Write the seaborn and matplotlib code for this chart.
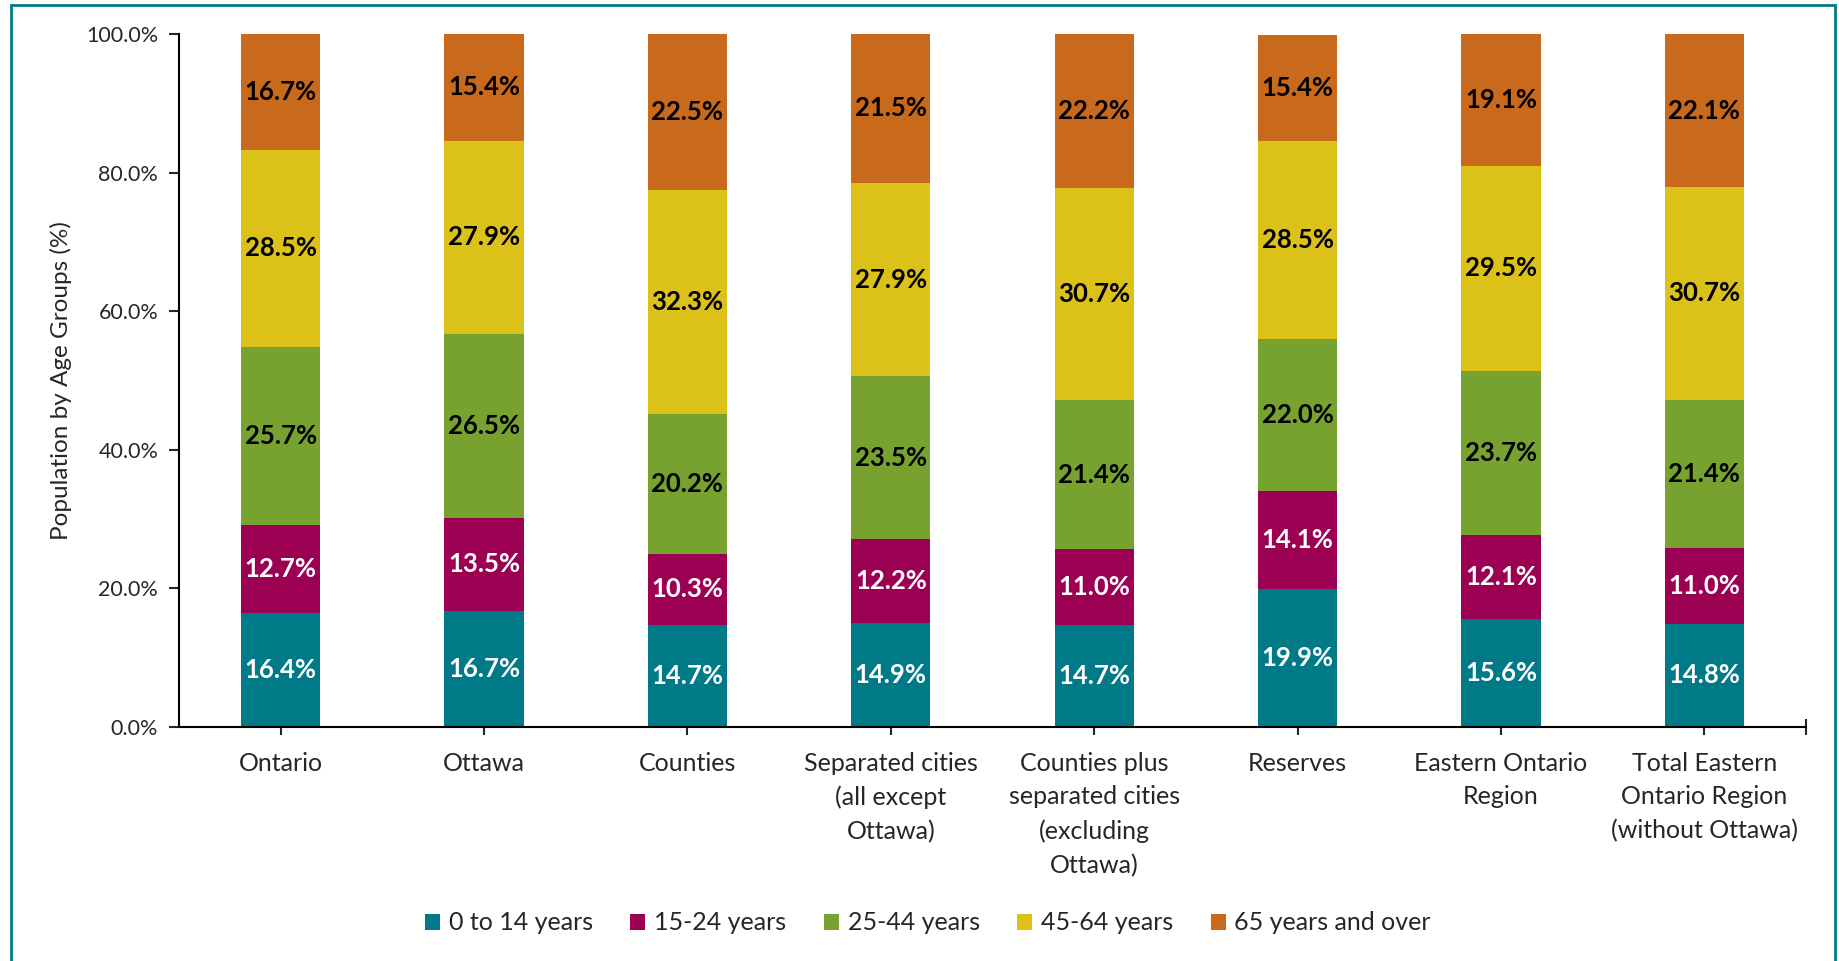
import matplotlib
matplotlib.use("Agg")
import matplotlib.pyplot as plt
import seaborn as sns
import pandas as pd
import numpy as np
from matplotlib.patches import Rectangle, Patch

categories = ["Ontario", "Ottawa", "Counties", "Separated cities\n(all except\nOttawa)",
              "Counties plus\nseparated cities\n(excluding\nOttawa)", "Reserves",
              "Eastern Ontario\nRegion", "Total Eastern\nOntario Region\n(without Ottawa)"]
age_groups = ["0 to 14 years", "15-24 years", "25-44 years", "45-64 years", "65 years and over"]
age_0_14 = [16.4, 16.7, 14.7, 14.9, 14.7, 19.9, 15.6, 14.8]
age_15_24 = [12.7, 13.5, 10.3, 12.2, 11.0, 14.1, 12.1, 11.0]
age_25_44 = [25.7, 26.5, 20.2, 23.5, 21.4, 22.0, 23.7, 21.4]
age_45_64 = [28.5, 27.9, 32.3, 27.9, 30.7, 28.5, 29.5, 30.7]
age_65_plus = [16.7, 15.4, 22.5, 21.5, 22.2, 15.4, 19.1, 22.1]
yticks = [0, 20, 40, 60, 80, 100]

colors = ["#007A87", "#9B0053", "#78A22F", "#DCC118", "#C8691C"]
label_colors = ["white", "white", "black", "black", "black"]

sns.set_theme(style="white")
plt.rcParams['font.family'] = ['Lato', 'DejaVu Sans']

fig = plt.figure(figsize=(18.4, 9.61), dpi=100)
ax = fig.add_axes([179/1840, 1 - 726.7/961, (1806 - 179)/1840, (726.7 - 34)/961])

series = [age_0_14, age_15_24, age_25_44, age_45_64, age_65_plus]
bottom = np.zeros(len(categories))
for vals, name, col, lc in zip(series, age_groups, colors, label_colors):
    df = pd.DataFrame({"cat": categories, "val": vals})
    sns.barplot(data=df, x="cat", y="val", color=col, bottom=bottom, width=0.39,
                ax=ax, saturation=1, errorbar=None, linewidth=0)
    for i, v in enumerate(vals):
        ax.text(i, bottom[i] + v / 2, f"{v:.1f}%", ha="center", va="center",
                color=lc, fontsize=18.5, fontweight="bold")
    bottom = bottom + np.array(vals)

ax.set_xlim(-0.5, len(categories) - 0.5)
ax.set_ylim(0, 100)
ax.set_yticks(yticks)
ax.set_yticklabels([f"{t:.1f}%" for t in yticks])
ax.set_xlabel("")
ax.set_ylabel("Population by Age Groups (%)", fontsize=17.5, labelpad=10)
ax.tick_params(axis="y", direction="out", length=7, width=1.5, labelsize=15.5, left=True, pad=8)
ax.tick_params(axis="x", direction="inout", length=12, width=1.5, labelsize=18, bottom=True, pad=12)
ax.set_xticks(list(range(len(categories))) + [len(categories) - 0.5])
ax.set_xticklabels(categories + [""], linespacing=1.56)
for s in ["top", "right"]:
    ax.spines[s].set_visible(False)
for s in ["left", "bottom"]:
    ax.spines[s].set_color("black")
    ax.spines[s].set_linewidth(1.5)

handles = [Patch(facecolor=c, edgecolor="none", label=n) for c, n in zip(colors, age_groups)]
fig.legend(handles=handles, loc="center", bbox_to_anchor=(928/1840, 1 - 923/961), ncol=5,
           frameon=False, fontsize=18, handlelength=0.6, handleheight=0.6,
           handletextpad=0.35, columnspacing=1.5)

fig.patches.append(Rectangle((11/1840, -0.05), (1835 - 11)/1840, 1.05 - 5/961,
                             transform=fig.transFigure, fill=False, edgecolor="#007A87",
                             linewidth=2, zorder=10))

fig.savefig("out.png", dpi=100)
